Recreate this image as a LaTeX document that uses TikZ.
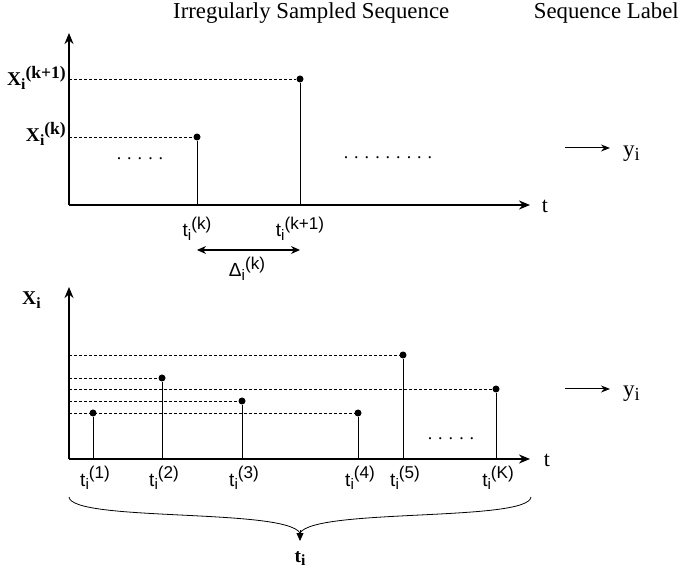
\documentclass[tikz,border=0pt]{standalone}
\usepackage{fontspec}
\setmainfont{Liberation Serif}
\setsansfont{Liberation Sans}
\usetikzlibrary{arrows.meta,positioning}

% sub- and superscripts set large, as in the drawing
\newcommand{\lo}[1]{\raisebox{-0.17em}{\scalebox{0.8}{#1}}}
\newcommand{\hi}[1]{\raisebox{0.4em}{\scalebox{0.9}{#1}}}

\begin{document}
\begin{tikzpicture}[
    x=1pt, y=-1pt,
    >={Stealth[length=11pt,width=9pt]},
    line cap=butt,
    axis style/.style={->, line width=2.2pt},
    stem style/.style={line width=0.9pt},
    proj style/.style={line width=0.7pt, dash pattern=on 3pt off 2pt},
    dot style/.style={circle, fill=black, inner sep=0pt, minimum size=7pt},
    tick label/.style={font=\sffamily\fontsize{19}{21}\selectfont, anchor=base, inner sep=0pt},
    head label/.style={font=\fontsize{22.8}{25}\selectfont, anchor=base, inner sep=0pt},
    val label/.style={font=\bfseries\fontsize{19.5}{21}\selectfont, inner sep=0pt},
    small arrow/.style={->, line width=1pt, >={Stealth[length=9pt,width=7pt]}}
]

% --- 1. FRAME ---
\useasboundingbox (0,0) rectangle (681,572);

% --- 2. HEADINGS ---
\node[head label, anchor=base west] (title) at (173,19) {Irregularly Sampled Sequence};
\node[head label, anchor=base east] (lbltitle) at (679,19) {Sequence Label};

% --- 3. TOP PLOT: AXES ---
\coordinate (o1) at (69,205);
\draw[axis style] (o1) -- (69,33);
\draw[axis style] (o1) -- (530,205);
\node[head label, font=\fontsize{22}{24}\selectfont] (t1) at (545,213) {t};

% --- 4. TOP PLOT: SAMPLES ---
\node[dot style] (pk) at (197,137) {};
\node[dot style] (pkk) at (300,79) {};
\coordinate (fk) at (197,205);
\coordinate (fkk) at (300,205);
\draw[stem style] (pk) -- (fk);
\draw[stem style] (pkk) -- (fkk);
\draw[proj style] (69,137) -- (pk);
\draw[proj style] (69,79) -- (pkk);
\node[val label, anchor=base east] (xk) at (66,142) {X\lo{i}\hi{(k)}};
\node[val label, anchor=base east] (xkk) at (66,86) {X\lo{i}\hi{(k+1)}};
\node[tick label] (tk) at (197,237) {t\lo{i}\hi{(k)}};
\node[tick label] (tkk) at (300,237) {t\lo{i}\hi{(k+1)}};

% gap between the two samples
\coordinate (dl) at (197,250);
\coordinate (dr) at (300,250);
\draw[<->, line width=1.1pt, >={Stealth[length=9pt,width=8pt]}] (dl) -- (dr);
\node[tick label] (delta) at (247,277) {Δ\lo{i}\hi{(k)}};

% dots
\node[head label, font=\fontsize{18}{20}\selectfont] (gapa) at (140,160) {.\,\,.\,\,.\,\,.\,\,.};
\node[head label, font=\fontsize{18}{20}\selectfont] (gapb) at (388,159) {.\,\,.\,\,.\,\,.\,\,.\,\,.\,\,.\,\,.\,\,.};

% label
\coordinate (ya) at (565,148);
\coordinate (yae) at (610,148);
\draw[small arrow] (ya) -- (yae);
\node[head label, anchor=base west, font=\fontsize{23}{25}\selectfont] (y1) at (623,157) {y\lo{i}};

% --- 5. BOTTOM PLOT: AXES ---
\coordinate (o2) at (69,459);
\draw[axis style] (o2) -- (69,287);
\draw[axis style] (o2) -- (530,459);
\node[head label, font=\fontsize{22}{24}\selectfont] (t2) at (547,467) {t};
\node[val label, anchor=base west] (xi) at (22,305) {X\lo{i}};

% --- 6. BOTTOM PLOT: SAMPLES ---
\foreach \n/\x/\y/\lab in {1/93/413/1, 2/162/378/2, 3/242/401/3, 4/358/413/4, 5/403/355/5, 6/496/389/K}{
  \node[dot style] (s\n) at (\x,\y) {};
  \coordinate (f\n) at (\x,459);
  \draw[stem style] (s\n) -- (f\n);
  \draw[proj style] (69,\y) -- (s\n);
  \node[tick label] (ts\n) at (\x+2,486) {t\lo{i}\hi{(\lab)}};
}
\node[head label, font=\fontsize{18}{20}\selectfont] (gapc) at (451,439) {.\,\,.\,\,.\,\,.\,\,.};

% label
\coordinate (yb) at (565,389);
\coordinate (ybe) at (610,389);
\draw[small arrow] (yb) -- (ybe);
\node[head label, anchor=base west, font=\fontsize{23}{25}\selectfont] (y2) at (623,397) {y\lo{i}};

% --- 7. BRACE ---
\coordinate (bl) at (69,497);
\coordinate (br) at (531,497);
\coordinate (bm) at (300,533);
\draw[line width=0.8pt] (bl) .. controls (72,522) and (285,508) .. (bm);
\draw[line width=0.8pt] (br) .. controls (528,522) and (315,508) .. (bm);
\draw[-{Triangle[length=8pt,width=7pt]}, line width=0.8pt] (300,530) -- (300,541);
\node[val label, anchor=base] (ti) at (300,562) {t\lo{i}};

\end{tikzpicture}
\end{document}
